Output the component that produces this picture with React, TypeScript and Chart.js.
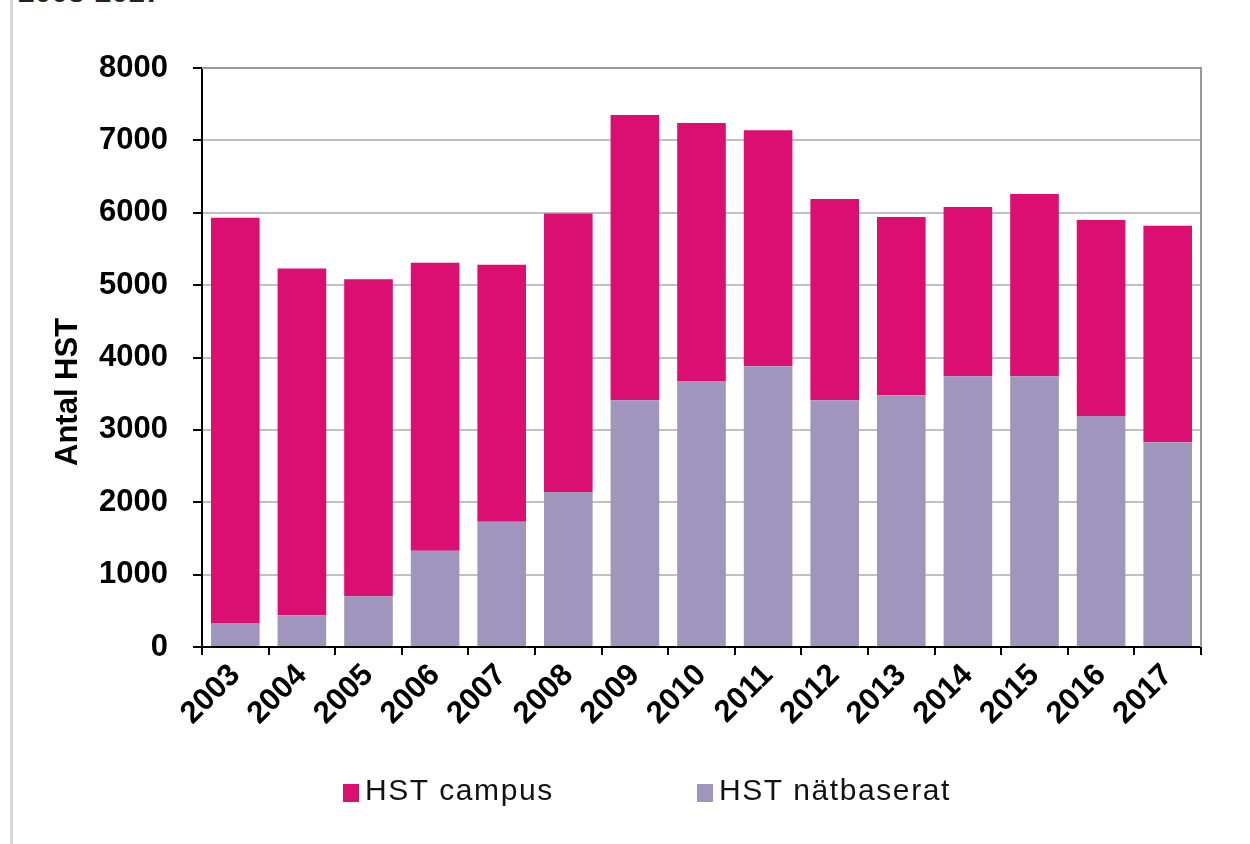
import React, { useEffect, useRef } from "react";
import { Chart, registerables } from "chart.js";

Chart.register(...registerables);

const years = ["2003", "2004", "2005", "2006", "2007", "2008", "2009", "2010", "2011", "2012", "2013", "2014", "2015", "2016", "2017"];
const hstNat = [330, 440, 700, 1330, 1730, 2140, 3410, 3670, 3880, 3410, 3480, 3740, 3740, 3190, 2830];
const hstCampus = [5600, 4790, 4380, 3980, 3550, 3850, 3940, 3570, 3260, 2780, 2460, 2340, 2520, 2710, 2990];
const yTicks = [0, 1000, 2000, 3000, 4000, 5000, 6000, 7000, 8000];

const PINK = "#DA0F71";
const PURPLE = "#A095BC";
const FONT = "'Liberation Sans', Arial, sans-serif";

const frame = {
  id: "frame",
  afterDatasetsDraw(chart: any) {
    const { ctx, chartArea } = chart;
    ctx.save();
    ctx.strokeStyle = "#9a9a9a";
    ctx.lineWidth = 2;
    ctx.beginPath();
    ctx.moveTo(chartArea.left, chartArea.top);
    ctx.lineTo(chartArea.right, chartArea.top);
    ctx.lineTo(chartArea.right, chartArea.bottom);
    ctx.stroke();
    ctx.restore();
  },
};

export default function App() {
  const ref = useRef<HTMLCanvasElement>(null);
  useEffect(() => {
    const chart = new Chart(ref.current!, {
      type: "bar",
      data: {
        labels: years,
        datasets: [
          { label: "HST nätbaserat", data: hstNat, backgroundColor: PURPLE, borderWidth: 0 },
          { label: "HST campus", data: hstCampus, backgroundColor: PINK, borderWidth: 0 },
        ],
      },
      options: {
        responsive: false,
        animation: false,
        layout: { padding: { top: 68, right: 49, bottom: 47, left: 0 } },
        datasets: { bar: { barPercentage: 0.73, categoryPercentage: 1 } },
        plugins: { legend: { display: false }, tooltip: { enabled: false } },
        scales: {
          x: {
            stacked: true,
            afterFit: (s: any) => { s.height = 150; },
            grid: { offset: true, drawOnChartArea: false, drawTicks: true, tickLength: 8, tickColor: "#000", lineWidth: 2 },
            border: { color: "#000", width: 2 },
            ticks: {
              color: "#000",
              font: { family: FONT, size: 31, weight: "bold" },
              maxRotation: 45,
              minRotation: 45,
              padding: 2,
              autoSkip: false,
            },
          },
          y: {
            stacked: true,
            min: 0,
            max: 8000,
            afterFit: (s: any) => { s.width = 202; },
            afterBuildTicks: (s: any) => { s.ticks = yTicks.map((v) => ({ value: v })); },
            grid: { color: "#c0c0c0", lineWidth: 2, drawTicks: true, tickLength: 9, tickColor: "#000" },
            border: { color: "#000", width: 2 },
            ticks: {
              color: "#000",
              font: { family: FONT, size: 31, weight: "bold" },
              padding: 25,
              callback: (v: any) => String(v),
            },
            title: {
              display: true,
              text: "Antal HST        ",
              color: "#000",
              font: { family: FONT, size: 31, weight: "bold" },
              padding: { top: 50, bottom: 0 },
            },
          },
        },
      },
      plugins: [frame],
    });
    return () => chart.destroy();
  }, []);

  const legendText: React.CSSProperties = {
    fontFamily: FONT,
    fontSize: 30,
    letterSpacing: "1.6px",
    color: "#111",
    lineHeight: "36px",
  };
  const box = (c: string): React.CSSProperties => ({
    display: "inline-block",
    width: 16,
    height: 18,
    background: c,
    marginRight: 6,
    verticalAlign: "-2px",
  });

  return (
    <div style={{ position: "absolute", left: 0, top: 0, width: 1250, height: 844, background: "#fff", overflow: "hidden" }}>
      <div style={{ position: "absolute", left: 10, top: 0, width: 3, height: 844, background: "#d6d6d6" }} />
      <div style={{ position: "absolute", left: 18, top: -25, fontFamily: FONT, fontWeight: "bold", fontSize: 30, color: "#222" }}>2003-2017</div>
      <canvas ref={ref} width={1250} height={844} style={{ position: "absolute", left: 0, top: 0, width: 1250, height: 844 }} />
      <div style={{ position: "absolute", left: 343, top: 772, whiteSpace: "nowrap", ...legendText }}>
        <span style={box(PINK)} />HST campus
      </div>
      <div style={{ position: "absolute", left: 697, top: 772, whiteSpace: "nowrap", ...legendText }}>
        <span style={box(PURPLE)} />HST nätbaserat
      </div>
    </div>
  );
}
